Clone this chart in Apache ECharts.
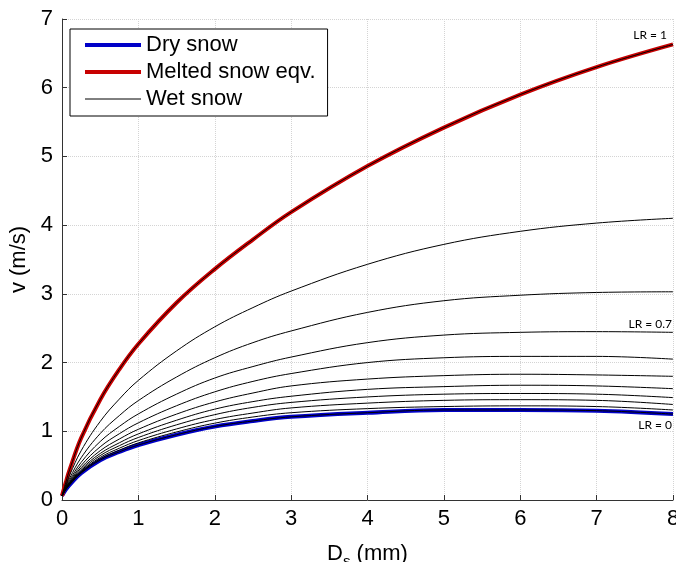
<!DOCTYPE html>
<html>
<head>
<meta charset="utf-8">
<script src="https://cdn.jsdelivr.net/npm/echarts@6/dist/echarts.min.js"></script>
<style>
  html, body { margin: 0; padding: 0; background: #fff; }
  #main { width: 676px; height: 562px; }
</style>
</head>
<body>
<div id="main"></div>
<script>
// snow diameter D_s (mm)
var ds = [0, 0.05, 0.1, 0.25, 0.5, 0.75, 1, 1.5, 2, 2.5, 3, 4, 5, 6, 7, 8];

// fall speed v (m/s) for each liquid ratio LR
var lr00 = [0.06, 0.15, 0.22, 0.39, 0.58, 0.70, 0.80, 0.95, 1.07, 1.15, 1.21, 1.27, 1.31, 1.31, 1.30, 1.25];
var lr01 = [0.06, 0.152, 0.225, 0.40, 0.598, 0.725, 0.831, 0.99, 1.118, 1.208, 1.27, 1.33, 1.36, 1.37, 1.36, 1.31];
var lr02 = [0.06, 0.155, 0.23, 0.412, 0.619, 0.753, 0.865, 1.034, 1.171, 1.266, 1.34, 1.41, 1.45, 1.46, 1.45, 1.39];
var lr03 = [0.06, 0.158, 0.237, 0.428, 0.646, 0.79, 0.91, 1.094, 1.242, 1.348, 1.42, 1.50, 1.54, 1.55, 1.54, 1.49];
var lr04 = [0.06, 0.162, 0.244, 0.446, 0.677, 0.832, 0.962, 1.161, 1.322, 1.432, 1.51, 1.61, 1.65, 1.67, 1.66, 1.62];
var lr05 = [0.06, 0.167, 0.254, 0.47, 0.717, 0.887, 1.029, 1.25, 1.427, 1.557, 1.66, 1.76, 1.81, 1.83, 1.82, 1.80];
var lr06 = [0.06, 0.174, 0.268, 0.502, 0.774, 0.964, 1.123, 1.372, 1.574, 1.726, 1.84, 2.00, 2.07, 2.09, 2.09, 2.05];
var lr07 = [0.06, 0.184, 0.288, 0.547, 0.851, 1.07, 1.253, 1.541, 1.775, 1.942, 2.08, 2.29, 2.40, 2.44, 2.45, 2.44];
var lr08 = [0.06, 0.198, 0.317, 0.614, 0.967, 1.228, 1.447, 1.79, 2.07, 2.29, 2.46, 2.73, 2.90, 2.98, 3.02, 3.03];
var lr09 = [0.06, 0.22, 0.361, 0.716, 1.143, 1.468, 1.741, 2.17, 2.52, 2.80, 3.04, 3.43, 3.72, 3.91, 4.03, 4.10];
var lr10 = [0.06, 0.26, 0.44, 0.90, 1.46, 1.90, 2.27, 2.87, 3.36, 3.79, 4.19, 4.86, 5.42, 5.90, 6.30, 6.63];

var wet = [lr00, lr01, lr02, lr03, lr04, lr05, lr06, lr07, lr08, lr09, lr10];
var lrLabels = { 0: 'LR = 0', 7: 'LR = 0.7', 10: 'LR = 1' };

var FONT = 'Liberation Sans';

function pairs(arr) {
  return ds.map(function (d, i) { return [d, arr[i]]; });
}

var myChart = echarts.init(document.getElementById('main'));

var series = [
  {
    name: 'Dry snow', type: 'line', data: pairs(lr00), smooth: 0.4,
    showSymbol: false, symbol: 'none',
    lineStyle: { width: 4, color: '#0000c8' }, itemStyle: { color: '#0000c8' }
  },
  {
    name: 'Melted snow eqv.', type: 'line', data: pairs(lr10), smooth: 0.4,
    showSymbol: false, symbol: 'none',
    lineStyle: { width: 4, color: '#c80000' }, itemStyle: { color: '#c80000' }
  }
];

wet.forEach(function (arr, k) {
  var s = {
    name: 'Wet snow', type: 'line', data: pairs(arr), smooth: 0.4,
    showSymbol: false, symbol: 'none',
    lineStyle: { width: 1, color: '#000' }, itemStyle: { color: '#000' }
  };
  if (lrLabels[k]) {
    var below = k === 0;
    s.markPoint = {
      symbol: 'circle', symbolSize: 0, silent: true,
      label: {
        show: true, formatter: lrLabels[k], position: below ? 'bottom' : 'top',
        align: 'right', color: '#000', fontFamily: 'Lato', fontSize: 12,
        offset: [k === 10 ? -6 : -1, below ? 0 : (k === 10 ? 2 : 3)]
      },
      data: [{ coord: [ds[ds.length - 1], arr[arr.length - 1]] }]
    };
  }
  series.push(s);
});

var option = {
  animation: false,
  grid: { left: 62, top: 19, right: 3, bottom: 62, outerBoundsMode: 'none' },
  legend: {
    orient: 'vertical', left: 70, top: 29,
    data: ['Dry snow', 'Melted snow eqv.', 'Wet snow'],
    itemWidth: 56, itemHeight: 14, itemGap: 3,
    padding: [4, 12, 5, 13],
    borderColor: '#000', borderWidth: 1, backgroundColor: '#fff',
    lineStyle: { width: 'inherit' },
    itemStyle: { opacity: 0 },
    textStyle: { fontFamily: FONT, fontSize: 22, lineHeight: 24, color: '#000' },
    selectedMode: false
  },
  xAxis: {
    type: 'value', min: 0, max: 8, interval: 1,
    name: '{a|D}{b|s}{a| (mm)}', nameLocation: 'middle', nameGap: 38,
    nameTextStyle: {
      rich: {
        a: { fontFamily: FONT, fontSize: 22, color: '#000' },
        b: { fontFamily: FONT, fontSize: 15, color: '#000', padding: [16, 0, 0, 0] }
      }
    },
    axisLine: { onZero: false, lineStyle: { color: '#333', width: 1 } },
    axisTick: { inside: true, length: 5, lineStyle: { color: '#333' } },
    axisLabel: { fontFamily: FONT, fontSize: 22, color: '#000', margin: 8 },
    splitLine: { show: true, lineStyle: { color: '#d4d4d4', type: 'dotted', width: 1 } }
  },
  yAxis: {
    type: 'value', min: 0, max: 7, interval: 1,
    name: 'v (m/s)', nameLocation: 'middle', nameGap: 25, nameRotate: 90,
    nameTextStyle: { fontFamily: FONT, fontSize: 22, color: '#000' },
    axisLine: { show: true, lineStyle: { color: '#333', width: 1 } },
    axisTick: { show: true, inside: true, length: 5, lineStyle: { color: '#333' } },
    axisLabel: { fontFamily: FONT, fontSize: 22, color: '#000', margin: 9 },
    splitLine: { show: true, lineStyle: { color: '#d4d4d4', type: 'dotted', width: 1 } }
  },
  series: series
};

myChart.setOption(option);
</script>
</body>
</html>
